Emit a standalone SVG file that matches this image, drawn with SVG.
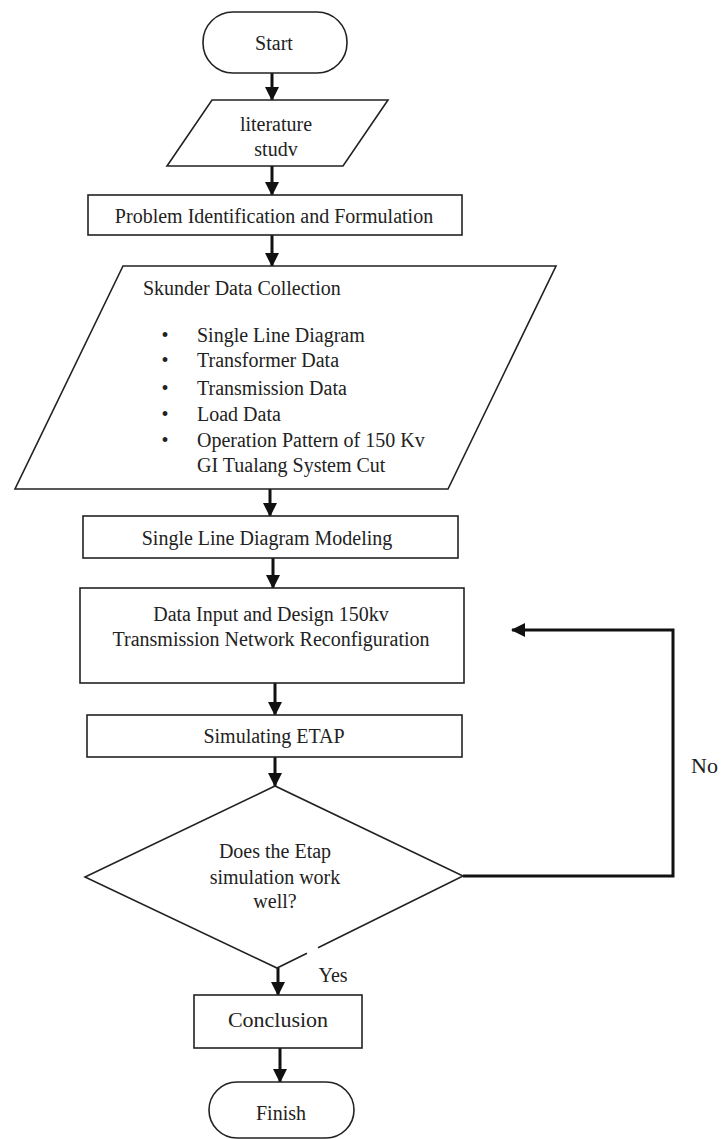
<svg xmlns="http://www.w3.org/2000/svg" width="721" height="1139" viewBox="0 0 721 1139">
<style>
.s{fill:#fff;stroke:#222;stroke-width:1.6}
.t{font-family:"Liberation Serif","Times New Roman",serif;font-size:20px;fill:#222;text-anchor:middle}
.l{text-anchor:start}
.c{fill:none;stroke:#111;stroke-width:3}
</style>
<defs>
<marker id="ah" viewBox="0 0 14 14" refX="13" refY="7" markerWidth="14" markerHeight="14" markerUnits="userSpaceOnUse" orient="auto">
<path d="M0,0 L14,7 L0,14 z" fill="#111"/>
</marker>
</defs>
<rect width="721" height="1139" fill="#fff"/>
<g id="connectors">
<line class="c" x1="272" y1="73" x2="272" y2="100" marker-end="url(#ah)"/>
<line class="c" x1="272" y1="166" x2="272" y2="195" marker-end="url(#ah)"/>
<line class="c" x1="272" y1="235" x2="272" y2="266" marker-end="url(#ah)"/>
<line class="c" x1="270" y1="489" x2="270" y2="516" marker-end="url(#ah)"/>
<line class="c" x1="273" y1="558" x2="273" y2="588" marker-end="url(#ah)"/>
<line class="c" x1="275" y1="683" x2="275" y2="715" marker-end="url(#ah)"/>
<line class="c" x1="275" y1="757" x2="275" y2="786" marker-end="url(#ah)"/>
<line class="c" x1="278" y1="968" x2="278" y2="995" marker-end="url(#ah)"/>
<line class="c" x1="280" y1="1048" x2="280" y2="1082" marker-end="url(#ah)"/>
<polyline class="c" points="463,876 673,876 673,630 512,630" marker-end="url(#ah)"/>
<text class="t" x="333" y="982">Yes</text>
<text class="t l" x="691" y="773" style="font-size:22px">No</text>
</g>
<g id="start">
<rect class="s" x="203" y="12" width="144" height="61" rx="30"/>
<text class="t" x="274" y="50">Start</text>
</g>
<g id="literature">
<polygon class="s" points="212,100 388,100 343,166 167,166"/>
<text class="t" x="276" y="131">literature</text>
<text class="t" x="276" y="156">studv</text>
</g>
<g id="problem">
<rect class="s" x="88" y="195" width="374" height="40"/>
<text class="t" x="274" y="223">Problem Identification and Formulation</text>
</g>
<g id="data-collection">
<polygon class="s" points="123,266 556,266 448,489 15,489"/>
<text class="t l" x="143" y="295">Skunder Data Collection</text>
<text class="t" x="165" y="342">•</text>
<text class="t l" x="197" y="342">Single Line Diagram</text>
<text class="t" x="165" y="367">•</text>
<text class="t l" x="197" y="367">Transformer Data</text>
<text class="t" x="165" y="395">•</text>
<text class="t l" x="197" y="395">Transmission Data</text>
<text class="t" x="165" y="421">•</text>
<text class="t l" x="197" y="421">Load Data</text>
<text class="t" x="165" y="447">•</text>
<text class="t l" x="197" y="447">Operation Pattern of 150 Kv</text>
<text class="t l" x="197" y="472">GI Tualang System Cut</text>
</g>
<g id="sld-modeling">
<rect class="s" x="83" y="516" width="375" height="42"/>
<text class="t" x="267" y="545">Single Line Diagram Modeling</text>
</g>
<g id="data-input">
<rect class="s" x="80" y="588" width="384" height="95"/>
<text class="t" x="271" y="621">Data Input and Design 150kv</text>
<text class="t" x="271" y="646">Transmission Network Reconfiguration</text>
</g>
<g id="simulating">
<rect class="s" x="87" y="715" width="375" height="42"/>
<text class="t" x="274" y="743">Simulating ETAP</text>
</g>
<g id="decision">
<path d="M85,877 L275,786 L463,876 L277,968 Z" fill="#fff" stroke="none"/>
<path class="s" style="fill:none" d="M318,947.7 L463,876 L275,786 L85,877 L277,968 L307,953.2"/>
<text class="t" x="275" y="858">Does the Etap</text>
<text class="t" x="275" y="884">simulation work</text>
<text class="t" x="275" y="908">well?</text>
</g>
<g id="conclusion">
<rect class="s" x="194" y="995" width="168" height="53"/>
<text class="t" x="278" y="1027" style="font-size:22px">Conclusion</text>
</g>
<g id="finish">
<rect class="s" x="209" y="1082" width="145" height="56" rx="28"/>
<text class="t" x="281" y="1120">Finish</text>
</g>
</svg>
